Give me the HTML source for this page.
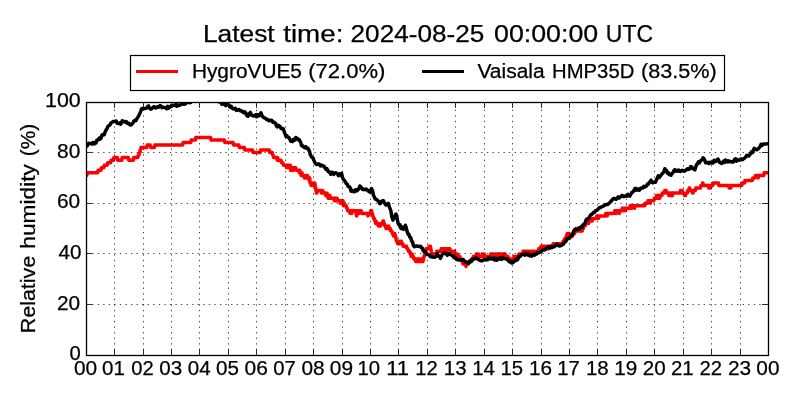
<!DOCTYPE html>
<html><head><meta charset="utf-8"><style>
html,body{margin:0;padding:0;background:#fff;width:800px;height:400px;overflow:hidden}
svg{display:block;will-change:transform}
text{font-family:"Liberation Sans",sans-serif;fill:#000;stroke:#000;stroke-width:0.25px}
</style></head><body>
<svg width="800" height="400" viewBox="0 0 800 400">
<rect x="0" y="0" width="800" height="400" fill="#fff"/>
<text x="202.93" y="41.55" font-size="24.6" textLength="71.75" lengthAdjust="spacingAndGlyphs">Latest</text><text x="283.17" y="41.55" font-size="24.6" textLength="60.26" lengthAdjust="spacingAndGlyphs">time:</text><text x="350.59" y="41.55" font-size="24.6" textLength="133.81" lengthAdjust="spacingAndGlyphs">2024-08-25</text><text x="494.06" y="41.55" font-size="24.6" textLength="104.13" lengthAdjust="spacingAndGlyphs">00:00:00</text><text x="605.82" y="41.55" font-size="24.6" textLength="47.20" lengthAdjust="spacingAndGlyphs">UTC</text>
<rect x="130.5" y="55.5" width="594" height="35" fill="none" stroke="#000" stroke-width="1.2"/>
<line x1="136" y1="71.5" x2="178" y2="71.5" stroke="#f00" stroke-width="2.8"/>
<line x1="422" y1="71.5" x2="464" y2="71.5" stroke="#000" stroke-width="2.8"/>
<text x="191.92" y="77.6" font-size="20.0" textLength="110.04" lengthAdjust="spacingAndGlyphs">HygroVUE5</text><text x="308.25" y="77.6" font-size="20.0" textLength="77.10" lengthAdjust="spacingAndGlyphs">(72.0%)</text><text x="477.41" y="77.6" font-size="20.0" textLength="67.23" lengthAdjust="spacingAndGlyphs">Vaisala</text><text x="552.10" y="77.6" font-size="20.0" textLength="82.21" lengthAdjust="spacingAndGlyphs">HMP35D</text><text x="641.08" y="77.6" font-size="20.0" textLength="75.73" lengthAdjust="spacingAndGlyphs">(83.5%)</text>
<svg x="86" y="102" width="683" height="254" viewBox="86 102 683 254" overflow="hidden">
<polyline points="86.0,175.4 86.4,175.4 86.8,175.4 87.2,172.8 87.7,172.8 88.1,172.8 88.5,172.8 88.9,172.8 89.3,172.8 89.8,172.8 90.2,172.8 90.6,172.8 91.0,172.8 91.4,172.8 91.9,172.8 92.3,172.8 92.8,172.8 93.2,172.8 93.7,172.8 94.1,172.8 94.6,172.8 95.0,172.8 95.5,172.8 95.9,172.8 96.4,172.8 96.8,172.8 97.2,172.8 97.7,172.8 98.1,170.3 98.5,170.3 98.9,170.3 99.3,170.3 99.8,170.3 100.2,170.3 100.6,170.3 101.0,170.3 101.4,167.8 101.8,167.8 102.2,167.8 102.7,167.8 103.1,167.8 103.5,167.8 103.9,167.8 104.3,165.2 104.8,165.2 105.2,165.2 105.6,165.2 106.0,165.2 106.4,165.2 106.8,165.2 107.2,165.2 107.7,162.7 108.1,162.7 108.5,162.7 108.9,162.7 109.3,162.7 109.8,162.7 110.2,162.7 110.6,162.7 111.0,160.2 111.4,160.2 111.8,160.2 112.2,160.2 112.7,160.2 113.1,160.2 113.5,160.2 113.9,157.6 114.3,157.6 114.8,157.6 115.2,157.6 115.6,157.6 116.0,157.6 116.4,157.6 116.8,157.6 117.2,157.6 117.7,160.2 118.1,160.2 118.5,160.2 118.9,160.2 119.3,160.2 119.8,160.2 120.2,160.2 120.6,160.2 121.0,160.2 121.4,160.2 121.8,160.2 122.1,157.6 122.5,157.6 122.9,157.6 123.4,157.6 123.8,157.6 124.3,157.6 124.8,157.6 125.2,157.6 125.7,157.6 126.1,157.6 126.6,157.6 127.0,157.6 127.4,157.6 127.8,157.6 128.3,157.6 128.7,160.2 129.1,160.2 129.5,160.2 129.9,160.2 130.4,160.2 130.8,160.2 131.2,160.2 131.6,160.2 132.1,160.2 132.5,160.2 132.9,160.2 133.4,160.2 133.8,157.6 134.3,157.6 134.8,157.6 135.2,157.6 135.6,157.6 136.0,157.6 136.4,157.6 136.8,157.6 137.2,157.6 137.7,157.6 138.2,155.1 138.6,155.1 139.1,155.1 139.5,152.6 139.9,152.6 140.2,150.0 140.6,150.0 141.0,147.5 141.4,147.5 141.8,147.5 142.2,147.5 142.7,147.5 143.2,147.5 143.7,147.5 144.1,147.5 144.6,147.5 145.1,147.5 145.5,147.5 146.0,147.5 146.4,147.5 146.8,147.5 147.2,145.0 147.7,145.0 148.1,145.0 148.5,145.0 148.9,145.0 149.3,145.0 149.8,145.0 150.2,145.0 150.6,147.5 151.0,147.5 151.4,147.5 151.9,147.5 152.3,147.5 152.8,147.5 153.2,147.5 153.7,147.5 154.1,147.5 154.5,147.5 154.9,145.0 155.2,145.0 155.6,145.0 156.0,145.0 156.5,145.0 156.9,145.0 157.4,145.0 157.9,145.0 158.3,145.0 158.8,145.0 159.3,145.0 159.8,145.0 160.2,145.0 160.7,145.0 161.2,145.0 161.6,145.0 162.1,145.0 162.6,145.0 163.0,145.0 163.5,145.0 164.0,145.0 164.4,145.0 164.9,145.0 165.4,145.0 165.8,145.0 166.3,145.0 166.8,145.0 167.2,145.0 167.7,145.0 168.2,145.0 168.7,145.0 169.1,145.0 169.6,145.0 170.1,145.0 170.5,145.0 171.0,145.0 171.5,145.0 171.9,145.0 172.4,145.0 172.9,145.0 173.3,145.0 173.8,145.0 174.3,145.0 174.8,145.0 175.2,145.0 175.7,145.0 176.2,145.0 176.6,145.0 177.1,145.0 177.6,145.0 178.0,145.0 178.5,145.0 179.0,145.0 179.4,145.0 179.9,145.0 180.4,145.0 180.8,145.0 181.3,145.0 181.8,145.0 182.2,145.0 182.7,145.0 183.1,142.4 183.5,142.4 183.9,142.4 184.3,142.4 184.8,142.4 185.2,142.4 185.7,142.4 186.2,142.4 186.6,142.4 187.1,142.4 187.6,142.4 188.0,142.4 188.5,142.4 189.0,142.4 189.5,142.4 189.9,142.4 190.4,142.4 190.8,142.4 191.2,139.9 191.6,139.9 192.0,139.9 192.4,139.9 192.9,139.9 193.3,139.9 193.7,139.9 194.1,139.9 194.6,139.9 195.0,139.9 195.4,139.9 195.8,137.4 196.2,137.4 196.6,137.4 197.1,137.4 197.5,137.4 198.0,137.4 198.4,137.4 198.9,137.4 199.4,137.4 199.8,137.4 200.3,137.4 200.7,137.4 201.2,137.4 201.7,137.4 202.1,137.4 202.6,137.4 203.0,137.4 203.5,137.4 204.0,137.4 204.4,137.4 204.9,137.4 205.3,137.4 205.8,137.4 206.3,137.4 206.7,137.4 207.2,137.4 207.6,137.4 208.1,137.4 208.6,137.4 209.0,137.4 209.5,137.4 209.9,137.4 210.4,137.4 210.7,137.4 211.0,139.9 211.5,139.9 211.9,139.9 212.4,139.9 212.9,139.9 213.3,139.9 213.8,139.9 214.2,139.9 214.7,139.9 215.2,139.9 215.6,139.9 216.1,139.9 216.6,139.9 217.0,139.9 217.5,139.9 217.9,139.9 218.4,139.9 218.9,139.9 219.3,139.9 219.8,139.9 220.3,139.9 220.7,139.9 221.2,139.9 221.6,139.9 222.1,139.9 222.6,139.9 223.0,139.9 223.5,139.9 223.9,139.9 224.3,139.9 224.8,142.4 225.2,142.4 225.7,142.4 226.2,142.4 226.6,142.4 227.1,142.4 227.6,142.4 228.0,142.4 228.5,142.4 229.0,142.4 229.4,142.4 229.9,142.4 230.4,142.4 230.8,142.4 231.3,142.4 231.8,142.4 232.2,142.4 232.7,142.4 233.1,142.4 233.5,145.0 234.0,145.0 234.4,145.0 234.9,145.0 235.3,145.0 235.8,145.0 236.2,145.0 236.7,145.0 237.1,145.0 237.6,145.0 238.0,145.0 238.5,145.0 238.9,145.0 239.3,147.5 239.8,147.5 240.2,147.5 240.7,147.5 241.2,147.5 241.6,147.5 242.1,147.5 242.6,147.5 243.0,147.5 243.5,147.5 243.9,147.5 244.3,147.5 244.8,150.0 245.2,150.0 245.7,150.0 246.1,150.0 246.6,150.0 247.0,150.0 247.5,150.0 247.9,150.0 248.4,150.0 248.9,150.0 249.3,150.0 249.8,150.0 250.2,150.0 250.7,150.0 251.1,150.0 251.6,150.0 252.0,150.0 252.5,150.0 252.9,152.6 253.4,152.6 253.8,152.6 254.3,152.6 254.7,152.6 255.2,152.6 255.6,152.6 256.1,152.6 256.6,152.6 257.0,152.6 257.5,152.6 257.9,152.6 258.4,152.6 258.8,152.6 259.3,152.6 259.8,152.6 260.2,152.6 260.6,150.0 261.0,150.0 261.5,150.0 261.9,150.0 262.4,150.0 262.9,150.0 263.3,150.0 263.8,150.0 264.3,150.0 264.8,150.0 265.2,150.0 265.7,150.0 266.2,150.0 266.6,150.0 267.1,150.0 267.6,150.0 268.0,150.0 268.5,150.0 268.9,150.0 269.3,150.0 269.8,152.6 270.2,152.6 270.6,152.6 271.0,152.6 271.4,152.6 271.8,152.6 272.2,152.6 272.7,155.1 273.1,155.1 273.5,157.6 274.0,157.6 274.4,157.6 274.9,157.6 275.4,157.6 275.8,157.6 276.3,157.6 276.8,157.6 277.2,160.2 277.7,157.6 278.2,160.2 278.7,160.2 279.1,160.2 279.6,160.2 280.1,160.2 280.5,160.2 281.0,160.2 281.5,162.7 281.9,162.7 282.4,162.7 282.9,162.7 283.3,165.2 283.8,165.2 284.3,165.2 284.8,165.2 285.2,165.2 285.7,165.2 286.2,165.2 286.6,167.8 287.1,165.2 287.6,165.2 288.0,165.2 288.5,165.2 288.9,165.2 289.4,167.8 289.8,167.8 290.3,165.2 290.7,170.3 291.2,167.8 291.6,170.3 292.1,170.3 292.5,167.8 292.9,167.8 293.4,170.3 293.9,167.8 294.3,167.8 294.8,167.8 295.2,167.8 295.7,167.8 296.1,170.3 296.6,170.3 297.0,170.3 297.5,170.3 297.9,170.3 298.4,170.3 298.8,170.3 299.3,172.8 299.8,170.3 300.2,172.8 300.7,172.8 301.1,175.4 301.6,172.8 302.0,172.8 302.5,175.4 302.9,175.4 303.4,175.4 303.8,175.4 304.3,177.9 304.8,177.9 305.2,177.9 305.6,177.9 306.1,175.4 306.6,177.9 307.0,177.9 307.4,175.4 307.9,177.9 308.3,177.9 308.8,177.9 309.2,180.4 309.7,177.9 310.1,183.0 310.6,183.0 311.0,185.5 311.5,183.0 311.9,183.0 312.4,183.0 312.9,185.5 313.3,185.5 313.8,185.5 314.3,185.5 314.8,183.0 315.2,185.5 315.6,188.0 316.0,190.6 316.5,193.1 316.9,193.1 317.4,190.6 317.8,190.6 318.3,190.6 318.7,190.6 319.2,190.6 319.6,190.6 320.1,190.6 320.5,190.6 321.0,190.6 321.5,193.1 321.9,190.6 322.4,193.1 322.9,190.6 323.3,193.1 323.8,193.1 324.3,193.1 324.8,193.1 325.2,193.1 325.7,195.6 326.2,195.6 326.6,195.6 327.1,193.1 327.6,195.6 328.0,198.2 328.5,198.2 329.0,198.2 329.4,195.6 329.9,195.6 330.3,198.2 330.8,198.2 331.2,198.2 331.7,198.2 332.1,198.2 332.6,198.2 333.0,198.2 333.5,198.2 334.0,198.2 334.4,200.7 334.9,198.2 335.3,200.7 335.8,198.2 336.2,198.2 336.7,198.2 337.1,198.2 337.6,200.7 338.0,200.7 338.5,200.7 339.0,200.7 339.4,200.7 339.9,200.7 340.3,203.2 340.8,200.7 341.2,200.7 341.7,203.2 342.1,203.2 342.6,200.7 343.0,200.7 343.5,205.8 344.0,203.2 344.4,203.2 344.9,205.8 345.4,205.8 345.8,205.8 346.3,205.8 346.8,208.3 347.2,208.3 347.7,210.8 348.2,210.8 348.7,210.8 349.1,210.8 349.6,210.8 350.1,213.4 350.5,210.8 351.0,210.8 351.4,210.8 351.9,213.4 352.3,210.8 352.8,210.8 353.2,210.8 353.7,210.8 354.1,210.8 354.5,210.8 354.9,210.8 355.4,210.8 355.8,210.8 356.2,213.4 356.6,215.9 357.1,213.4 357.5,213.4 357.9,210.8 358.4,213.4 358.9,213.4 359.3,210.8 359.8,210.8 360.2,210.8 360.7,210.8 361.2,210.8 361.6,213.4 362.1,213.4 362.6,213.4 363.0,213.4 363.5,213.4 364.0,213.4 364.4,213.4 364.9,213.4 365.3,213.4 365.8,213.4 366.2,213.4 366.7,213.4 367.1,213.4 367.6,213.4 368.0,215.9 368.5,213.4 368.9,213.4 369.4,213.4 369.8,213.4 370.3,213.4 370.7,210.8 371.2,210.8 371.6,210.8 372.0,213.4 372.4,213.4 372.7,215.9 373.1,215.9 373.5,218.4 373.9,218.4 374.3,218.4 374.8,221.0 375.2,221.0 375.6,223.5 376.0,221.0 376.5,223.5 376.9,223.5 377.4,223.5 377.9,223.5 378.3,226.0 378.8,223.5 379.3,226.0 379.8,226.0 380.2,226.0 380.7,226.0 381.2,223.5 381.6,223.5 382.1,223.5 382.6,223.5 383.0,221.0 383.5,221.0 383.9,223.5 384.3,223.5 384.8,226.0 385.2,226.0 385.6,226.0 386.0,228.6 386.4,228.6 386.9,228.6 387.3,228.6 387.8,228.6 388.2,228.6 388.7,226.0 389.1,228.6 389.5,228.6 389.9,228.6 390.2,228.6 390.6,231.1 391.0,231.1 391.5,231.1 391.9,231.1 392.4,233.6 392.9,233.6 393.3,236.1 393.8,233.6 394.3,233.6 394.8,233.6 395.2,236.1 395.6,236.1 396.0,238.7 396.4,241.2 396.8,241.2 397.2,241.2 397.7,243.7 398.2,243.7 398.6,243.7 399.1,243.7 399.5,241.2 400.0,243.7 400.4,243.7 400.9,241.2 401.3,241.2 401.8,243.7 402.2,243.7 402.7,243.7 403.2,246.3 403.7,246.3 404.1,246.3 404.6,246.3 405.1,246.3 405.5,246.3 406.0,246.3 406.5,246.3 406.9,248.8 407.4,248.8 407.9,248.8 408.3,251.3 408.8,251.3 409.3,251.3 409.8,251.3 410.2,253.9 410.7,253.9 411.2,256.4 411.6,256.4 412.1,253.9 412.6,256.4 413.0,256.4 413.5,256.4 413.9,258.9 414.3,258.9 414.8,258.9 415.2,258.9 415.6,261.5 416.0,258.9 416.5,261.5 416.9,258.9 417.4,258.9 417.9,261.5 418.3,258.9 418.8,258.9 419.3,261.5 419.8,258.9 420.2,261.5 420.7,261.5 421.2,258.9 421.6,261.5 422.1,258.9 422.6,258.9 423.0,261.5 423.5,258.9 423.9,256.4 424.3,256.4 424.8,253.9 425.2,253.9 425.6,251.3 426.0,248.8 426.4,248.8 426.9,248.8 427.3,248.8 427.8,248.8 428.2,248.8 428.6,248.8 429.1,246.3 429.5,246.3 430.0,246.3 430.4,246.3 430.9,248.8 431.3,251.3 431.8,253.9 432.2,256.4 432.7,256.4 433.2,253.9 433.6,253.9 434.1,253.9 434.5,253.9 435.0,253.9 435.4,253.9 435.9,253.9 436.3,253.9 436.8,251.3 437.2,251.3 437.7,251.3 438.1,251.3 438.6,251.3 439.0,251.3 439.5,251.3 439.9,251.3 440.4,251.3 440.8,251.3 441.3,248.8 441.7,251.3 442.2,248.8 442.6,251.3 443.1,248.8 443.5,248.8 444.0,251.3 444.4,251.3 444.9,248.8 445.3,251.3 445.8,248.8 446.3,248.8 446.7,251.3 447.2,248.8 447.6,248.8 448.1,248.8 448.6,248.8 449.0,248.8 449.5,248.8 449.9,248.8 450.4,251.3 450.9,251.3 451.3,251.3 451.8,251.3 452.3,251.3 452.7,251.3 453.2,251.3 453.7,251.3 454.1,251.3 454.6,251.3 455.1,253.9 455.5,253.9 456.0,253.9 456.5,253.9 456.9,253.9 457.4,253.9 457.9,256.4 458.3,256.4 458.8,256.4 459.3,256.4 459.8,256.4 460.2,258.9 460.6,258.9 461.1,258.9 461.5,258.9 462.0,261.5 462.4,261.5 462.9,264.0 463.3,261.5 463.8,261.5 464.2,264.0 464.7,264.0 465.1,264.0 465.6,264.0 466.0,266.5 466.5,264.0 466.9,264.0 467.4,264.0 467.9,264.0 468.3,264.0 468.8,261.5 469.3,261.5 469.8,261.5 470.2,261.5 470.6,261.5 471.1,261.5 471.5,258.9 472.0,258.9 472.4,258.9 472.9,258.9 473.3,256.4 473.8,258.9 474.2,256.4 474.7,258.9 475.1,256.4 475.6,256.4 476.0,256.4 476.5,253.9 476.9,256.4 477.4,256.4 477.9,253.9 478.3,253.9 478.8,256.4 479.3,256.4 479.7,256.4 480.2,256.4 480.7,256.4 481.1,256.4 481.6,256.4 482.1,253.9 482.5,256.4 483.0,256.4 483.4,256.4 483.9,256.4 484.3,253.9 484.7,256.4 485.1,256.4 485.6,256.4 486.0,256.4 486.5,256.4 486.9,256.4 487.4,256.4 487.9,256.4 488.3,256.4 488.8,256.4 489.3,256.4 489.8,256.4 490.2,256.4 490.7,253.9 491.2,253.9 491.6,256.4 492.1,253.9 492.6,256.4 493.0,256.4 493.5,253.9 494.0,256.4 494.4,256.4 494.9,256.4 495.3,253.9 495.8,256.4 496.2,256.4 496.7,256.4 497.1,253.9 497.6,256.4 498.0,253.9 498.5,253.9 498.9,253.9 499.4,253.9 499.8,253.9 500.3,253.9 500.7,253.9 501.2,253.9 501.6,256.4 502.1,256.4 502.5,253.9 503.0,253.9 503.4,256.4 503.9,256.4 504.3,253.9 504.8,256.4 505.2,253.9 505.7,256.4 506.2,256.4 506.6,256.4 507.1,256.4 507.6,256.4 508.0,256.4 508.5,258.9 509.0,258.9 509.4,258.9 509.9,258.9 510.4,258.9 510.8,258.9 511.3,258.9 511.8,258.9 512.2,258.9 512.7,258.9 513.1,261.5 513.6,258.9 514.0,256.4 514.5,258.9 514.9,258.9 515.4,256.4 515.8,258.9 516.3,256.4 516.7,256.4 517.2,256.4 517.6,256.4 518.1,256.4 518.5,256.4 519.0,253.9 519.4,253.9 519.9,253.9 520.3,253.9 520.8,253.9 521.2,253.9 521.7,253.9 522.1,253.9 522.6,253.9 523.0,251.3 523.5,251.3 523.9,251.3 524.4,251.3 524.8,251.3 525.3,251.3 525.7,253.9 526.2,251.3 526.6,251.3 527.1,251.3 527.5,251.3 528.0,253.9 528.4,251.3 528.9,251.3 529.3,253.9 529.8,253.9 530.2,253.9 530.6,253.9 531.1,251.3 531.5,251.3 532.0,251.3 532.4,251.3 532.9,251.3 533.3,251.3 533.8,253.9 534.2,253.9 534.7,251.3 535.1,253.9 535.6,253.9 536.0,253.9 536.5,251.3 536.9,251.3 537.4,251.3 537.8,251.3 538.3,251.3 538.7,248.8 539.2,251.3 539.6,248.8 540.1,248.8 540.5,248.8 541.0,246.3 541.5,246.3 541.9,246.3 542.4,246.3 542.9,248.8 543.3,246.3 543.8,246.3 544.3,246.3 544.8,246.3 545.2,246.3 545.7,246.3 546.2,248.8 546.6,248.8 547.1,246.3 547.6,246.3 548.0,246.3 548.5,248.8 549.0,246.3 549.4,246.3 549.9,246.3 550.4,246.3 550.8,246.3 551.3,246.3 551.8,246.3 552.2,246.3 552.7,246.3 553.2,243.7 553.7,243.7 554.1,246.3 554.6,243.7 555.1,243.7 555.5,243.7 556.0,243.7 556.4,243.7 556.9,243.7 557.3,243.7 557.8,243.7 558.2,243.7 558.7,243.7 559.1,243.7 559.6,243.7 560.0,243.7 560.5,243.7 560.9,243.7 561.4,243.7 561.8,243.7 562.2,243.7 562.7,243.7 563.2,241.2 563.6,241.2 564.1,241.2 564.5,238.7 565.0,238.7 565.4,238.7 565.9,238.7 566.3,236.1 566.8,236.1 567.2,233.6 567.7,236.1 568.2,233.6 568.6,233.6 569.1,233.6 569.5,236.1 570.0,236.1 570.4,236.1 570.9,236.1 571.3,236.1 571.8,236.1 572.2,236.1 572.7,236.1 573.2,233.6 573.7,233.6 574.1,231.1 574.6,233.6 575.1,231.1 575.5,231.1 576.0,228.6 576.4,228.6 576.9,228.6 577.3,228.6 577.8,231.1 578.2,228.6 578.7,228.6 579.1,231.1 579.6,228.6 580.0,231.1 580.5,231.1 580.9,231.1 581.4,231.1 581.8,231.1 582.2,231.1 582.7,228.6 583.2,228.6 583.7,226.0 584.1,226.0 584.6,226.0 585.1,226.0 585.5,223.5 586.0,223.5 586.5,223.5 586.9,223.5 587.4,223.5 587.8,221.0 588.3,223.5 588.7,223.5 589.2,221.0 589.6,221.0 590.1,221.0 590.5,221.0 591.0,221.0 591.4,218.4 591.9,221.0 592.3,221.0 592.8,218.4 593.2,218.4 593.7,218.4 594.1,218.4 594.6,218.4 595.0,218.4 595.5,218.4 595.9,218.4 596.4,218.4 596.8,215.9 597.2,215.9 597.7,215.9 598.1,215.9 598.6,218.4 599.0,215.9 599.5,215.9 599.9,215.9 600.4,215.9 600.8,215.9 601.3,215.9 601.7,215.9 602.2,215.9 602.6,215.9 603.1,215.9 603.5,215.9 604.0,215.9 604.4,215.9 604.9,215.9 605.4,215.9 605.8,213.4 606.3,213.4 606.8,213.4 607.2,215.9 607.7,213.4 608.2,213.4 608.7,213.4 609.1,213.4 609.6,213.4 610.1,213.4 610.5,213.4 611.0,213.4 611.5,213.4 611.9,213.4 612.4,213.4 612.9,213.4 613.3,213.4 613.8,213.4 614.3,213.4 614.8,210.8 615.2,210.8 615.7,213.4 616.2,213.4 616.6,210.8 617.1,210.8 617.6,210.8 618.0,210.8 618.5,210.8 619.0,210.8 619.4,213.4 619.9,210.8 620.4,210.8 620.8,210.8 621.3,210.8 621.8,210.8 622.2,208.3 622.7,208.3 623.2,208.3 623.7,210.8 624.1,208.3 624.6,208.3 625.1,208.3 625.5,210.8 626.0,208.3 626.5,208.3 626.9,208.3 627.4,208.3 627.9,208.3 628.3,208.3 628.8,208.3 629.3,208.3 629.8,208.3 630.2,205.8 630.7,208.3 631.2,208.3 631.6,208.3 632.1,205.8 632.6,205.8 633.0,205.8 633.5,205.8 634.0,205.8 634.4,208.3 634.9,205.8 635.4,205.8 635.8,205.8 636.3,205.8 636.8,205.8 637.2,205.8 637.7,205.8 638.2,205.8 638.7,205.8 639.1,205.8 639.6,205.8 640.1,205.8 640.5,205.8 641.0,205.8 641.5,205.8 641.9,205.8 642.4,205.8 642.9,205.8 643.3,205.8 643.8,205.8 644.3,205.8 644.8,205.8 645.2,203.2 645.7,203.2 646.2,203.2 646.6,203.2 647.1,203.2 647.6,203.2 648.0,200.7 648.5,200.7 649.0,200.7 649.4,200.7 649.9,200.7 650.3,203.2 650.8,200.7 651.2,200.7 651.7,200.7 652.1,200.7 652.6,200.7 653.0,200.7 653.5,200.7 653.9,200.7 654.4,198.2 654.8,198.2 655.3,198.2 655.7,198.2 656.2,198.2 656.6,195.6 657.0,195.6 657.5,198.2 657.9,195.6 658.4,195.6 658.8,195.6 659.2,195.6 659.7,198.2 660.1,195.6 660.6,195.6 661.0,195.6 661.5,195.6 661.9,195.6 662.4,193.1 662.9,193.1 663.3,193.1 663.8,193.1 664.3,193.1 664.8,190.6 665.2,190.6 665.7,190.6 666.1,190.6 666.6,193.1 667.0,193.1 667.5,193.1 667.9,193.1 668.4,193.1 668.8,195.6 669.3,193.1 669.8,195.6 670.2,193.1 670.6,195.6 671.1,193.1 671.5,193.1 672.0,193.1 672.4,195.6 672.9,193.1 673.3,193.1 673.8,193.1 674.2,193.1 674.7,193.1 675.1,193.1 675.6,193.1 676.0,193.1 676.4,193.1 676.9,193.1 677.3,193.1 677.8,193.1 678.2,193.1 678.7,193.1 679.1,193.1 679.5,193.1 680.0,193.1 680.4,190.6 680.9,193.1 681.3,190.6 681.8,190.6 682.2,190.6 682.7,193.1 683.2,193.1 683.6,193.1 684.1,193.1 684.6,195.6 685.0,195.6 685.5,195.6 686.0,193.1 686.4,193.1 686.9,193.1 687.4,193.1 687.8,190.6 688.3,190.6 688.8,190.6 689.2,188.0 689.7,188.0 690.2,190.6 690.7,190.6 691.1,190.6 691.6,190.6 692.1,190.6 692.5,193.1 693.0,193.1 693.5,190.6 693.9,190.6 694.4,190.6 694.9,190.6 695.3,190.6 695.8,188.0 696.3,188.0 696.8,188.0 697.2,188.0 697.7,188.0 698.2,188.0 698.6,188.0 699.1,188.0 699.6,188.0 700.0,188.0 700.5,188.0 700.9,185.5 701.3,185.5 701.8,185.5 702.2,185.5 702.6,183.0 703.0,183.0 703.4,185.5 703.8,185.5 704.2,185.5 704.7,185.5 705.1,185.5 705.5,185.5 706.0,185.5 706.4,185.5 706.9,185.5 707.3,185.5 707.8,185.5 708.2,185.5 708.7,188.0 709.1,188.0 709.6,185.5 710.0,185.5 710.5,188.0 711.0,185.5 711.4,185.5 711.9,185.5 712.4,185.5 712.8,185.5 713.3,183.0 713.8,183.0 714.2,183.0 714.7,183.0 715.2,183.0 715.7,183.0 716.1,183.0 716.6,183.0 717.1,183.0 717.5,183.0 718.0,183.0 718.4,183.0 718.8,185.5 719.2,185.5 719.7,185.5 720.1,185.5 720.5,185.5 721.0,185.5 721.4,185.5 721.9,185.5 722.4,185.5 722.8,185.5 723.3,185.5 723.8,185.5 724.2,185.5 724.7,185.5 725.1,185.5 725.6,185.5 726.0,185.5 726.5,185.5 726.9,185.5 727.4,185.5 727.8,185.5 728.3,185.5 728.7,185.5 729.2,188.0 729.6,188.0 730.1,188.0 730.5,188.0 730.9,188.0 731.3,185.5 731.8,185.5 732.2,185.5 732.6,185.5 733.0,185.5 733.5,185.5 733.9,185.5 734.4,185.5 734.8,185.5 735.3,185.5 735.8,185.5 736.2,185.5 736.7,185.5 737.1,185.5 737.6,185.5 738.1,185.5 738.5,185.5 739.0,185.5 739.4,185.5 739.9,185.5 740.4,185.5 740.8,185.5 741.3,185.5 741.8,185.5 742.2,183.0 742.7,183.0 743.2,183.0 743.6,183.0 744.1,183.0 744.6,183.0 745.0,180.4 745.5,180.4 746.0,180.4 746.4,180.4 746.9,180.4 747.3,180.4 747.8,180.4 748.2,180.4 748.7,180.4 749.1,180.4 749.6,180.4 750.0,180.4 750.5,180.4 751.0,180.4 751.4,180.4 751.9,180.4 752.3,180.4 752.8,177.9 753.2,177.9 753.7,177.9 754.1,177.9 754.6,177.9 755.0,177.9 755.5,175.4 756.0,175.4 756.4,175.4 756.9,175.4 757.3,175.4 757.8,175.4 758.2,177.9 758.7,175.4 759.1,175.4 759.6,175.4 760.0,175.4 760.5,175.4 761.0,175.4 761.4,175.4 761.9,175.4 762.4,175.4 762.8,175.4 763.3,175.4 763.8,175.4 764.2,172.8 764.7,172.8 765.2,172.8 765.7,172.8 766.1,172.8 766.6,172.8 767.1,172.8 767.5,172.8 768.0,172.8" fill="none" stroke="#f00" stroke-width="3.47" stroke-linejoin="round" stroke-linecap="round"/>
<polyline points="86.0,145.2 86.8,146.2 87.7,145.3 88.5,143.4 89.3,143.7 90.2,143.4 91.0,143.6 91.8,144.1 92.7,142.5 93.5,142.5 94.3,144.0 95.2,142.6 96.0,143.0 96.8,140.2 97.7,140.2 98.5,139.8 99.3,138.0 100.2,139.1 101.0,138.4 101.8,135.4 102.7,134.6 103.5,135.0 104.3,134.6 105.2,131.8 106.0,130.1 106.8,129.1 107.7,126.8 108.5,125.8 109.3,125.4 110.2,124.6 111.0,123.0 112.0,122.3 113.1,121.5 114.1,121.4 115.1,121.3 116.2,121.0 117.2,123.2 118.1,122.9 118.9,123.5 119.8,122.8 120.6,124.2 121.4,123.2 122.2,120.8 123.1,121.1 123.9,121.7 124.8,121.4 125.6,122.4 126.4,121.7 127.2,123.2 128.1,123.5 128.9,123.3 129.8,124.7 130.6,125.1 131.4,124.7 132.2,123.6 133.1,123.0 133.9,120.8 134.8,120.5 135.8,120.8 136.8,118.8 137.9,117.2 138.8,115.6 139.8,113.5 140.7,111.4 141.6,108.7 142.4,108.5 143.3,108.4 144.1,108.7 145.1,108.4 146.0,108.3 146.8,108.0 147.7,106.4 148.5,105.9 149.5,108.0 150.6,109.2 151.6,108.8 152.7,107.8 153.7,106.7 154.8,107.0 155.8,108.0 156.8,107.3 157.9,106.6 158.9,107.2 160.0,105.6 161.0,106.1 161.9,107.7 162.9,107.2 163.8,107.4 164.8,107.4 165.7,108.0 166.6,108.8 167.6,106.4 168.5,108.1 169.3,107.5 170.2,106.9 171.0,105.8 172.0,106.0 173.0,105.3 174.0,105.4 175.0,105.1 176.0,104.2 176.8,106.3 177.7,105.8 178.5,105.0 179.4,105.4 180.4,105.0 181.3,104.3 182.2,103.9 183.2,104.2 184.1,104.2 185.1,104.0 186.0,103.5 186.9,102.2 187.9,102.4 188.8,102.0 189.8,102.7 190.6,102.5 191.4,101.5 192.2,100.7 193.2,100.3 194.1,98.4 195.0,99.3 196.2,98.9 197.3,97.5 198.5,97.3 199.6,97.3 200.8,99.1 201.9,97.9 203.1,97.6 204.2,98.8 205.4,98.1 206.5,97.5 207.7,97.7 208.8,98.6 210.0,97.7 211.2,98.3 212.4,99.8 213.6,99.5 214.8,99.6 215.8,100.4 216.8,99.9 217.8,101.2 218.8,101.8 219.8,101.8 220.8,102.0 221.8,104.3 222.8,103.7 223.8,103.4 224.8,104.8 225.8,105.6 226.9,104.1 228.0,104.5 229.1,105.2 230.2,107.2 231.3,106.4 232.4,108.4 233.5,108.9 234.4,108.9 235.4,108.3 236.3,110.4 237.2,110.2 238.2,109.9 239.1,109.5 240.1,110.8 241.0,110.5 241.9,111.5 242.9,111.4 243.8,112.7 244.8,111.8 245.8,113.2 246.8,115.7 247.9,116.3 248.7,114.1 249.6,114.6 250.4,112.4 251.4,115.1 252.5,115.7 253.5,116.0 254.4,115.5 255.4,114.8 256.3,116.8 257.2,114.6 258.2,116.0 259.1,115.7 260.1,114.2 261.0,112.7 262.0,115.6 263.1,117.1 264.1,117.7 264.9,118.1 265.8,118.6 266.6,119.4 267.7,119.4 268.8,120.8 269.9,120.5 271.0,120.3 271.9,120.5 272.9,122.3 273.8,121.9 274.8,122.9 275.6,123.5 276.4,125.9 277.2,127.0 278.2,125.2 279.1,125.9 280.1,126.5 281.0,128.4 281.8,128.8 282.7,128.5 283.5,129.1 284.3,132.1 285.2,134.4 286.0,136.5 286.8,135.5 287.7,137.3 288.5,137.2 289.5,138.4 290.6,141.2 291.6,141.1 292.4,141.7 293.3,139.5 294.1,139.1 294.9,140.1 295.8,137.5 296.6,138.0 297.4,138.5 298.3,139.9 299.1,139.6 299.9,141.2 300.8,142.7 301.6,145.8 302.7,145.8 303.7,147.2 304.8,147.7 305.8,146.7 306.8,148.5 307.9,148.3 308.7,149.8 309.6,151.6 310.4,155.1 311.2,156.2 312.1,157.5 312.9,157.6 313.9,160.4 315.0,162.8 316.0,164.0 316.8,164.6 317.7,164.0 318.5,163.9 319.4,164.3 320.4,165.8 321.3,165.1 322.2,165.9 323.2,165.7 324.1,166.2 325.1,168.3 326.0,169.3 326.9,168.6 327.9,171.4 328.8,171.3 329.8,172.6 330.8,174.3 331.8,172.2 332.8,172.6 333.8,174.4 334.8,172.9 335.7,172.7 336.6,173.4 337.6,174.1 338.5,175.8 339.5,173.7 340.6,175.1 341.6,173.3 342.4,177.1 343.3,179.2 344.1,180.1 345.2,181.5 346.2,183.5 347.2,184.0 348.2,186.6 349.1,186.4 350.1,187.6 351.0,191.2 352.0,190.1 353.1,191.5 354.1,191.8 354.9,190.8 355.8,189.6 356.6,191.0 357.7,190.1 358.7,189.1 359.8,186.0 360.7,186.7 361.6,188.1 362.6,189.4 363.5,188.9 364.4,189.5 365.4,189.8 366.3,189.1 367.2,190.1 368.1,190.6 368.9,191.5 369.8,192.1 370.7,189.8 371.6,188.7 372.6,191.1 373.5,195.4 374.3,196.8 375.2,199.0 376.0,199.1 376.9,199.8 377.9,200.8 378.8,201.7 379.8,203.8 380.7,203.3 381.6,201.3 382.6,200.8 383.5,200.7 384.3,202.5 385.2,204.2 386.0,205.0 386.8,204.0 387.7,204.2 388.5,203.4 389.3,207.2 390.2,208.8 391.0,211.5 391.9,216.9 392.9,220.1 393.9,218.8 395.0,215.6 396.0,214.0 396.9,217.0 397.9,222.5 398.9,224.9 400.0,224.8 401.0,228.6 401.8,226.9 402.7,228.6 403.5,229.3 404.4,227.6 405.4,225.2 406.3,227.8 407.2,231.9 408.1,234.4 408.9,234.3 409.8,237.2 410.7,237.3 411.6,241.0 412.6,242.0 413.5,245.8 414.5,246.8 415.6,246.1 416.6,246.0 417.7,246.2 418.7,246.4 419.8,246.7 420.6,246.3 421.4,247.8 422.2,247.9 423.1,250.3 423.9,251.3 424.8,251.3 425.7,251.5 426.6,254.3 427.6,254.5 428.5,254.5 429.4,255.2 430.4,256.7 431.3,256.4 432.2,257.0 433.3,257.1 434.3,257.2 435.4,257.0 436.3,256.3 437.2,253.6 438.3,255.6 439.3,256.0 440.4,258.4 441.3,256.3 442.2,254.7 443.2,253.5 444.1,253.3 445.2,253.1 446.2,253.9 447.2,255.3 448.2,254.2 449.1,253.5 450.1,254.6 451.0,254.4 451.9,255.5 452.9,255.8 453.8,257.2 454.8,258.1 455.7,257.6 456.6,259.0 457.6,259.8 458.5,259.9 459.4,259.9 460.4,259.8 461.3,260.2 462.2,259.8 463.3,259.5 464.4,261.6 465.5,261.4 466.6,262.7 467.7,263.2 468.7,263.4 469.8,261.1 470.8,261.7 471.8,261.1 472.8,258.8 473.8,258.8 474.8,258.3 475.8,257.6 476.8,258.7 477.8,259.2 478.8,259.2 479.8,260.3 480.8,260.6 481.8,261.0 482.8,260.3 483.8,259.6 484.8,260.0 485.8,259.4 486.8,259.8 487.8,259.7 488.8,257.5 489.8,258.5 490.8,258.9 491.8,258.3 492.8,258.9 493.8,258.3 494.8,260.0 495.8,258.1 496.8,260.2 497.8,259.6 498.8,259.0 499.8,257.9 500.8,259.3 501.8,259.3 502.8,257.2 503.8,258.6 504.8,258.6 505.7,258.7 506.6,259.4 507.6,259.3 508.5,261.0 509.6,261.9 510.7,261.3 511.8,263.1 512.9,262.9 513.8,261.4 514.8,260.8 515.7,259.4 516.6,260.4 517.7,259.6 518.8,256.6 519.9,256.8 521.0,255.4 522.0,254.4 523.0,254.6 524.0,254.3 525.0,255.2 526.0,253.2 526.9,254.0 527.9,254.9 528.8,254.2 529.8,255.9 530.8,255.7 531.8,256.2 532.8,254.5 533.8,254.6 534.8,255.1 535.7,253.8 536.6,254.0 537.6,252.5 538.5,252.9 539.4,252.6 540.4,252.0 541.3,251.8 542.2,250.1 543.2,249.6 544.2,250.1 545.2,249.5 546.2,248.6 547.2,247.8 548.2,247.3 549.2,246.7 550.2,248.1 551.2,246.2 552.2,247.5 553.2,246.4 554.1,246.8 555.1,245.7 556.0,245.5 557.1,244.0 558.2,245.3 559.3,246.0 560.4,245.8 561.3,245.6 562.2,244.7 563.2,244.4 564.1,242.6 565.1,242.2 566.2,240.7 567.2,238.9 568.2,238.4 569.1,238.5 570.1,237.5 571.0,236.2 571.9,235.2 572.9,233.1 573.8,231.3 574.8,229.4 575.7,229.4 576.6,229.6 577.6,229.6 578.5,228.9 579.4,227.7 580.4,228.3 581.3,226.6 582.2,227.1 583.2,224.6 584.1,224.0 585.1,223.2 586.0,220.1 586.9,218.9 587.9,219.0 588.8,217.9 589.8,216.6 590.7,214.6 591.6,214.4 592.6,213.4 593.5,212.3 594.5,212.5 595.5,210.9 596.5,210.4 597.5,209.9 598.5,208.7 599.5,207.6 600.5,207.7 601.5,206.9 602.5,206.5 603.5,205.9 604.5,204.9 605.5,204.9 606.5,204.4 607.5,204.6 608.5,203.8 609.4,203.0 610.4,201.9 611.3,201.1 612.2,199.7 613.2,198.8 614.2,198.3 615.2,199.1 616.2,199.3 617.2,198.2 618.2,196.9 619.1,198.1 620.1,196.9 621.0,196.4 622.0,195.3 623.0,196.3 624.0,196.8 625.0,195.9 626.0,195.7 626.9,196.1 627.9,194.3 628.8,195.3 629.8,196.1 630.8,194.3 631.9,192.4 632.9,192.0 633.7,190.9 634.6,189.1 635.4,188.3 636.4,190.3 637.5,189.1 638.5,189.0 639.3,190.2 640.2,188.9 641.0,188.0 641.9,187.9 642.9,188.0 643.8,186.2 644.8,187.0 645.7,186.4 646.6,185.9 647.6,183.9 648.5,184.0 649.3,182.2 650.2,182.1 651.0,180.2 651.9,182.2 652.9,182.9 653.8,182.2 654.8,182.4 655.6,182.3 656.4,179.9 657.2,178.3 658.2,175.9 659.1,177.5 660.1,176.4 661.0,175.2 661.9,173.9 662.9,173.1 663.8,171.6 664.8,168.7 665.6,170.5 666.4,170.3 667.2,173.0 668.2,172.5 669.1,174.4 670.1,174.8 671.0,175.3 671.9,173.3 672.9,172.9 673.8,170.8 674.8,169.7 675.7,171.1 676.6,170.3 677.6,171.2 678.5,170.0 679.4,171.3 680.4,171.4 681.3,170.6 682.2,170.3 683.3,171.0 684.4,171.2 685.5,170.3 686.5,169.7 687.5,168.7 688.5,169.2 689.5,169.2 690.5,166.8 691.6,166.7 692.7,168.6 693.8,169.2 694.9,169.9 695.7,167.1 696.6,164.6 697.4,163.9 698.4,161.8 699.5,162.8 700.5,160.9 701.3,160.4 702.2,159.4 703.0,157.8 703.8,158.6 704.7,160.0 705.5,162.7 706.3,162.2 707.2,162.9 708.0,162.4 709.0,163.4 710.0,162.2 711.0,162.6 712.0,163.1 713.0,163.1 714.0,160.3 715.0,161.6 716.0,161.3 717.0,159.5 718.0,159.1 718.8,160.7 719.7,162.6 720.5,162.5 721.5,163.4 722.5,162.8 723.5,161.0 724.5,162.5 725.5,160.1 726.5,160.6 727.5,162.0 728.5,160.8 729.5,161.8 730.5,161.4 731.5,161.7 732.5,162.2 733.5,161.9 734.5,159.3 735.5,158.9 736.4,161.1 737.4,159.5 738.3,160.4 739.2,160.3 740.2,159.6 741.1,158.9 742.1,159.7 743.0,159.3 743.9,158.4 744.9,158.0 745.8,156.8 746.8,155.3 747.7,155.6 748.6,156.1 749.6,155.0 750.5,153.8 751.4,151.9 752.4,152.6 753.3,150.4 754.2,148.4 755.2,149.3 756.1,149.5 757.1,149.7 758.0,148.9 759.0,148.0 760.1,146.5 761.1,144.3 762.1,145.5 763.2,144.0 764.2,144.1 765.2,144.1 766.1,144.0 767.1,143.8 768.0,143.7" fill="none" stroke="#000" stroke-width="3.47" stroke-linejoin="round" stroke-linecap="round"/>
</svg>
<g stroke="#000" stroke-width="0.7" stroke-dasharray="1.39 4.17" fill="none">
<line x1="114.5" y1="355.7" x2="114.5" y2="102" /><line x1="143.5" y1="355.7" x2="143.5" y2="102" /><line x1="171.5" y1="355.7" x2="171.5" y2="102" /><line x1="199.5" y1="355.7" x2="199.5" y2="102" /><line x1="228.5" y1="355.7" x2="228.5" y2="102" /><line x1="256.5" y1="355.7" x2="256.5" y2="102" /><line x1="285.5" y1="355.7" x2="285.5" y2="102" /><line x1="313.5" y1="355.7" x2="313.5" y2="102" /><line x1="342.5" y1="355.7" x2="342.5" y2="102" /><line x1="370.5" y1="355.7" x2="370.5" y2="102" /><line x1="398.5" y1="355.7" x2="398.5" y2="102" /><line x1="427.5" y1="355.7" x2="427.5" y2="102" /><line x1="455.5" y1="355.7" x2="455.5" y2="102" /><line x1="484.5" y1="355.7" x2="484.5" y2="102" /><line x1="512.5" y1="355.7" x2="512.5" y2="102" /><line x1="541.5" y1="355.7" x2="541.5" y2="102" /><line x1="569.5" y1="355.7" x2="569.5" y2="102" /><line x1="597.5" y1="355.7" x2="597.5" y2="102" /><line x1="626.5" y1="355.7" x2="626.5" y2="102" /><line x1="654.5" y1="355.7" x2="654.5" y2="102" /><line x1="683.5" y1="355.7" x2="683.5" y2="102" /><line x1="711.5" y1="355.7" x2="711.5" y2="102" /><line x1="740.5" y1="355.7" x2="740.5" y2="102" /><line x1="86.5" y1="304.5" x2="768" y2="304.5" /><line x1="86.5" y1="253.5" x2="768" y2="253.5" /><line x1="86.5" y1="203.5" x2="768" y2="203.5" /><line x1="86.5" y1="152.5" x2="768" y2="152.5" />
</g>
<g stroke="#000" stroke-width="0.8" fill="none">
<line x1="114.5" y1="355" x2="114.5" y2="349" /><line x1="114.5" y1="102" x2="114.5" y2="108" /><line x1="143.5" y1="355" x2="143.5" y2="349" /><line x1="143.5" y1="102" x2="143.5" y2="108" /><line x1="171.5" y1="355" x2="171.5" y2="349" /><line x1="171.5" y1="102" x2="171.5" y2="108" /><line x1="199.5" y1="355" x2="199.5" y2="349" /><line x1="199.5" y1="102" x2="199.5" y2="108" /><line x1="228.5" y1="355" x2="228.5" y2="349" /><line x1="228.5" y1="102" x2="228.5" y2="108" /><line x1="256.5" y1="355" x2="256.5" y2="349" /><line x1="256.5" y1="102" x2="256.5" y2="108" /><line x1="285.5" y1="355" x2="285.5" y2="349" /><line x1="285.5" y1="102" x2="285.5" y2="108" /><line x1="313.5" y1="355" x2="313.5" y2="349" /><line x1="313.5" y1="102" x2="313.5" y2="108" /><line x1="342.5" y1="355" x2="342.5" y2="349" /><line x1="342.5" y1="102" x2="342.5" y2="108" /><line x1="370.5" y1="355" x2="370.5" y2="349" /><line x1="370.5" y1="102" x2="370.5" y2="108" /><line x1="398.5" y1="355" x2="398.5" y2="349" /><line x1="398.5" y1="102" x2="398.5" y2="108" /><line x1="427.5" y1="355" x2="427.5" y2="349" /><line x1="427.5" y1="102" x2="427.5" y2="108" /><line x1="455.5" y1="355" x2="455.5" y2="349" /><line x1="455.5" y1="102" x2="455.5" y2="108" /><line x1="484.5" y1="355" x2="484.5" y2="349" /><line x1="484.5" y1="102" x2="484.5" y2="108" /><line x1="512.5" y1="355" x2="512.5" y2="349" /><line x1="512.5" y1="102" x2="512.5" y2="108" /><line x1="541.5" y1="355" x2="541.5" y2="349" /><line x1="541.5" y1="102" x2="541.5" y2="108" /><line x1="569.5" y1="355" x2="569.5" y2="349" /><line x1="569.5" y1="102" x2="569.5" y2="108" /><line x1="597.5" y1="355" x2="597.5" y2="349" /><line x1="597.5" y1="102" x2="597.5" y2="108" /><line x1="626.5" y1="355" x2="626.5" y2="349" /><line x1="626.5" y1="102" x2="626.5" y2="108" /><line x1="654.5" y1="355" x2="654.5" y2="349" /><line x1="654.5" y1="102" x2="654.5" y2="108" /><line x1="683.5" y1="355" x2="683.5" y2="349" /><line x1="683.5" y1="102" x2="683.5" y2="108" /><line x1="711.5" y1="355" x2="711.5" y2="349" /><line x1="711.5" y1="102" x2="711.5" y2="108" /><line x1="740.5" y1="355" x2="740.5" y2="349" /><line x1="740.5" y1="102" x2="740.5" y2="108" /><line x1="86" y1="304.5" x2="92" y2="304.5" /><line x1="768" y1="304.5" x2="762" y2="304.5" /><line x1="86" y1="253.5" x2="92" y2="253.5" /><line x1="768" y1="253.5" x2="762" y2="253.5" /><line x1="86" y1="203.5" x2="92" y2="203.5" /><line x1="768" y1="203.5" x2="762" y2="203.5" /><line x1="86" y1="152.5" x2="92" y2="152.5" /><line x1="768" y1="152.5" x2="762" y2="152.5" />
</g>
<rect x="86.5" y="102.5" width="682" height="253" fill="none" stroke="#000" stroke-width="1.3"/>
<text x="45.12" y="106.7" font-size="19.7" textLength="35.66" lengthAdjust="spacingAndGlyphs">100</text><text x="57.13" y="157.75" font-size="19.7" textLength="23.20" lengthAdjust="spacingAndGlyphs">80</text><text x="56.90" y="207.85" font-size="19.7" textLength="23.18" lengthAdjust="spacingAndGlyphs">60</text><text x="58.45" y="258.6" font-size="19.7" textLength="22.91" lengthAdjust="spacingAndGlyphs">40</text><text x="56.96" y="309.75" font-size="19.7" textLength="23.14" lengthAdjust="spacingAndGlyphs">20</text><text x="69.43" y="359.75" font-size="19.7" textLength="11.24" lengthAdjust="spacingAndGlyphs">0</text>
<text x="73.93" y="374.6" font-size="19.7" textLength="23.22" lengthAdjust="spacingAndGlyphs">00</text><text x="102.00" y="374.6" font-size="19.7" textLength="22.92" lengthAdjust="spacingAndGlyphs">01</text><text x="131.32" y="374.6" font-size="19.7" textLength="22.47" lengthAdjust="spacingAndGlyphs">02</text><text x="159.25" y="374.6" font-size="19.7" textLength="22.90" lengthAdjust="spacingAndGlyphs">03</text><text x="187.86" y="374.6" font-size="19.7" textLength="22.85" lengthAdjust="spacingAndGlyphs">04</text><text x="216.08" y="374.6" font-size="19.7" textLength="22.91" lengthAdjust="spacingAndGlyphs">05</text><text x="244.57" y="374.6" font-size="19.7" textLength="23.29" lengthAdjust="spacingAndGlyphs">06</text><text x="273.19" y="374.6" font-size="19.7" textLength="22.59" lengthAdjust="spacingAndGlyphs">07</text><text x="301.49" y="374.6" font-size="19.7" textLength="23.19" lengthAdjust="spacingAndGlyphs">08</text><text x="329.79" y="374.6" font-size="19.7" textLength="23.21" lengthAdjust="spacingAndGlyphs">09</text><text x="357.51" y="374.6" font-size="19.7" textLength="22.55" lengthAdjust="spacingAndGlyphs">10</text><text x="386.18" y="374.6" font-size="19.7" textLength="22.90" lengthAdjust="spacingAndGlyphs">11</text><text x="415.34" y="374.6" font-size="19.7" textLength="22.43" lengthAdjust="spacingAndGlyphs">12</text><text x="443.78" y="374.6" font-size="19.7" textLength="22.75" lengthAdjust="spacingAndGlyphs">13</text><text x="472.25" y="374.6" font-size="19.7" textLength="22.70" lengthAdjust="spacingAndGlyphs">14</text><text x="500.60" y="374.6" font-size="19.7" textLength="22.56" lengthAdjust="spacingAndGlyphs">15</text><text x="528.97" y="374.6" font-size="19.7" textLength="23.09" lengthAdjust="spacingAndGlyphs">16</text><text x="557.35" y="374.6" font-size="19.7" textLength="22.53" lengthAdjust="spacingAndGlyphs">17</text><text x="585.98" y="374.6" font-size="19.7" textLength="22.79" lengthAdjust="spacingAndGlyphs">18</text><text x="614.22" y="374.6" font-size="19.7" textLength="22.97" lengthAdjust="spacingAndGlyphs">19</text><text x="642.74" y="374.6" font-size="19.7" textLength="22.95" lengthAdjust="spacingAndGlyphs">20</text><text x="671.01" y="374.6" font-size="19.7" textLength="22.74" lengthAdjust="spacingAndGlyphs">21</text><text x="699.44" y="374.6" font-size="19.7" textLength="22.60" lengthAdjust="spacingAndGlyphs">22</text><text x="727.99" y="374.6" font-size="19.7" textLength="23.18" lengthAdjust="spacingAndGlyphs">23</text><text x="756.34" y="374.6" font-size="19.7" textLength="23.13" lengthAdjust="spacingAndGlyphs">00</text>
<g transform="translate(34.6,331.8) rotate(-90)"><text x="-1.57" y="0" font-size="19.7" textLength="77.70" lengthAdjust="spacingAndGlyphs">Relative</text><text x="83.06" y="0" font-size="19.7" textLength="84.66" lengthAdjust="spacingAndGlyphs">humidity</text><text x="175.62" y="0" font-size="19.7" textLength="32.44" lengthAdjust="spacingAndGlyphs">(%)</text></g>
</svg>
</body></html>
